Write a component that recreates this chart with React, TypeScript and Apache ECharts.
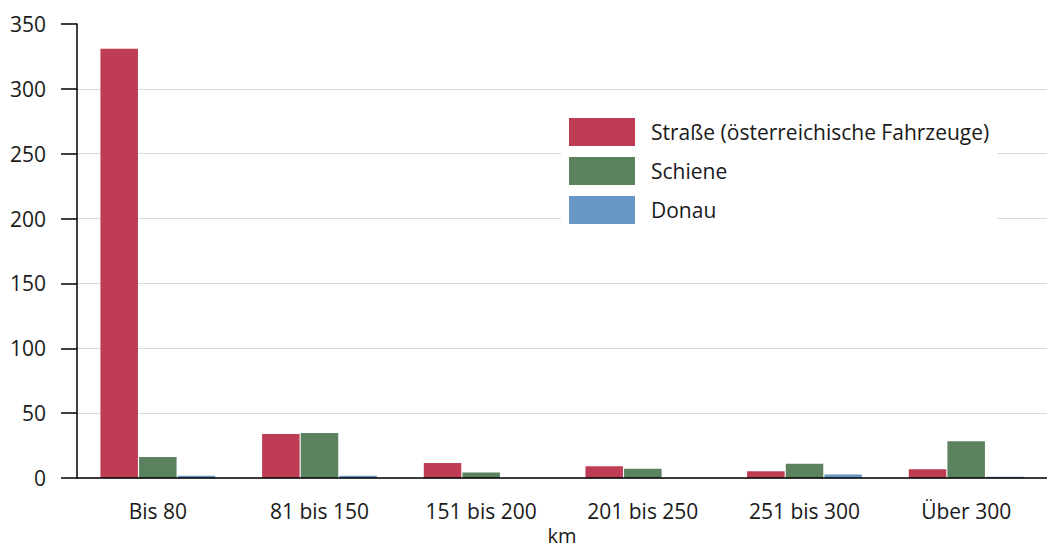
import React, { useEffect, useRef } from "react";
import * as echarts from "echarts";

const categories = ["Bis 80", "81 bis 150", "151 bis 200", "201 bis 250", "251 bis 300", "Über 300"];
const strasse = [331, 34, 11.5, 9, 5.3, 6.8];
const schiene = [16.2, 34.6, 4.3, 7.1, 11, 28.4];
const donau = [1.7, 1.7, 0, 0, 2.7, 0.9];
const seriesNames = ["Straße (österreichische Fahrzeuge)", "Schiene", "Donau"];
const colors = ["#be3d55", "#5b825f", "#6798c5"];

const FONT = "'Open Sans', sans-serif";

export default function App() {
  const ref = useRef<HTMLDivElement>(null);
  useEffect(() => {
    document.body.style.margin = "0";
    const chart = echarts.init(ref.current!, null, { renderer: "svg" });
    const gridColors = ["#d9d9d9", "#d9d9d9", "#d9d9d9", "#d9d9d9", "#d9d9d9", "#d9d9d9", "#d9d9d9", "rgba(0,0,0,0)"];
    const values = [strasse, schiene, donau];
    chart.setOption({
      animation: false,
      textStyle: { fontFamily: FONT },
      grid: { left: 77, right: 0, top: 24, bottom: 72, outerBoundsMode: "none", containLabel: false },
      legend: {
        orient: "vertical",
        left: 561,
        top: 118,
        padding: [0, 8, 0, 8],
        itemWidth: 66,
        itemHeight: 28,
        itemGap: 11,
        icon: "rect",
        backgroundColor: "#ffffff",
        textStyle: { fontSize: 21, color: "#1a1a1a", fontFamily: FONT, padding: [0, 0, 0, 11] },
        data: seriesNames,
      },
      xAxis: {
        type: "category",
        data: categories,
        name: "km",
        nameLocation: "middle",
        nameGap: 47,
        nameTextStyle: { fontSize: 20, color: "#1a1a1a", fontFamily: FONT },
        axisLine: { show: true, lineStyle: { color: "#000000", width: 1.5 } },
        axisTick: { show: false },
        axisLabel: { fontSize: 21, color: "#1a1a1a", margin: 22, fontFamily: FONT },
        z: 5,
      },
      yAxis: {
        type: "value",
        min: 0,
        max: 350,
        interval: 50,
        axisLine: { show: true, lineStyle: { color: "#000000", width: 1.5 } },
        axisTick: { show: true, length: 16, lineStyle: { color: "#000000", width: 1.5 } },
        axisLabel: { fontSize: 21, color: "#1a1a1a", margin: 31, fontFamily: FONT },
        splitLine: { show: true, lineStyle: { color: gridColors, width: 1.2 } },
      },
      series: seriesNames.map((name, i) => ({
        name,
        type: "bar",
        data: values[i],
        barGap: "3%",
        barCategoryGap: "29%",
        itemStyle: { color: colors[i] },
      })),
    });
    return () => chart.dispose();
  }, []);
  return <div ref={ref} style={{ width: 1047, height: 550 }} />;
}
